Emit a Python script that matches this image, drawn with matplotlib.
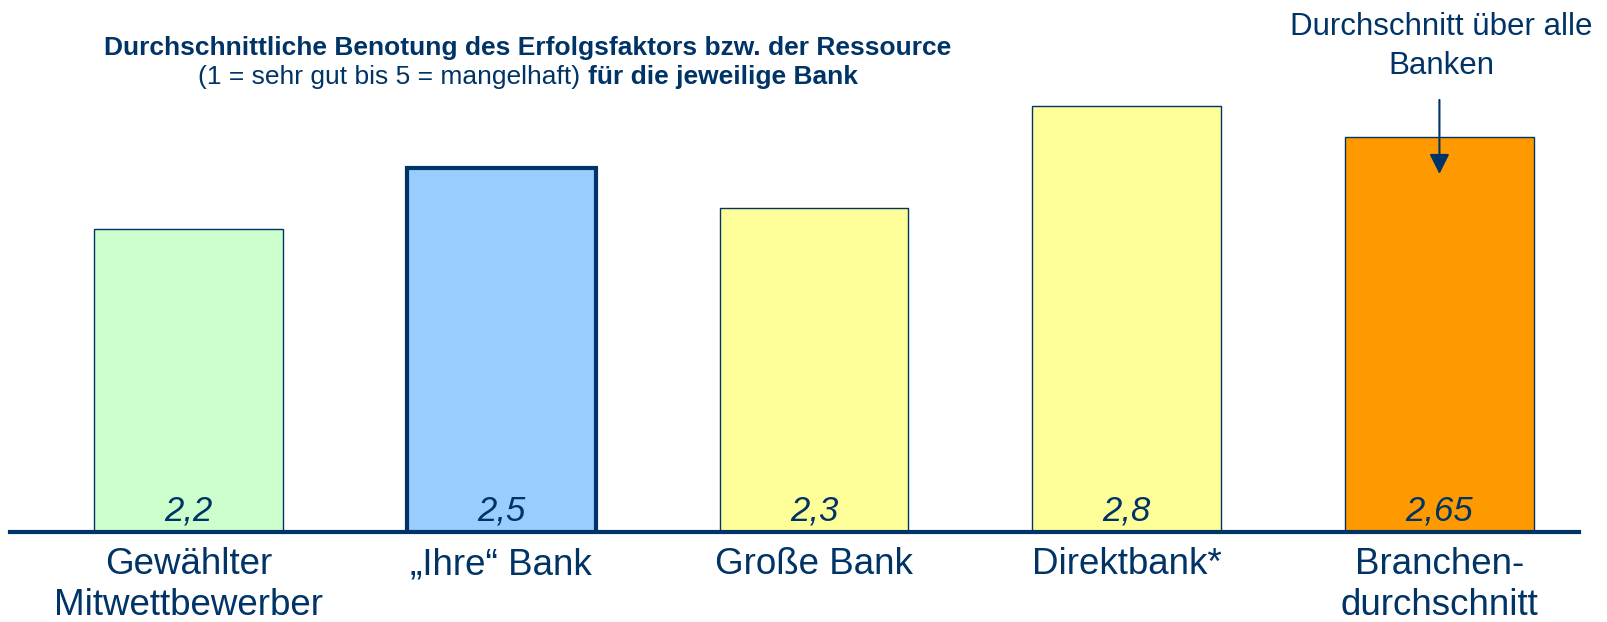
import matplotlib.pyplot as plt
from matplotlib import transforms

plt.rcParams['font.family'] = ['Liberation Sans', 'DejaVu Sans']

# data
categories = ["Gewählter\nMitwettbewerber", "„Ihre“ Bank", "Große Bank", "Direktbank*", "Branchen-\ndurchschnitt"]
values = [2.2, 2.5, 2.3, 2.8, 2.65]
value_labels = ["2,2", "2,5", "2,3", "2,8", "2,65"]
colors = ["#CCFFCC", "#99CCFF", "#FFFF99", "#FFFF99", "#FF9900"]
edge_widths = [1.0, 3.0, 1.0, 1.0, 1.0]

navy = "#003366"

fig = plt.figure(figsize=(16.08, 6.22), dpi=100)
ax = fig.add_axes([0.0062, 0.1447, 0.9757, 0.75])

x = list(range(len(values)))
ax.bar(x, values, width=0.604, color=colors, edgecolor=navy, linewidth=edge_widths, zorder=2)

ax.set_xlim(-0.571, 4.446)
ax.set_ylim(0.714, 3.0)

# values inside the bars, near the base line
trans = transforms.blended_transform_factory(ax.transData, ax.transAxes)
for xi, lab in zip(x, value_labels):
    ax.text(xi, 0.045, lab, transform=trans, ha='center', va='center',
            fontsize=25, style='italic', color=navy, zorder=3)

ax.set_xticks(x)
ax.set_xticklabels(categories, fontsize=26.5, color=navy, linespacing=1.2)
ax.tick_params(axis='x', length=0, pad=11)
ax.set_yticks([])
for s in ['top', 'left', 'right']:
    ax.spines[s].set_visible(False)
ax.spines['bottom'].set_color(navy)
ax.spines['bottom'].set_linewidth(3)
ax.spines['bottom'].set_zorder(4)
ax.patch.set_alpha(0)

# title
fig.text(0.328, 0.923, "Durchschnittliche Benotung des Erfolgsfaktors bzw. der Ressource",
         ha='center', va='center', fontsize=19, fontweight='bold', color=navy)
t1 = fig.text(198 / 1608, 0.876, "(1 = sehr gut bis 5 = mangelhaft) ",
              ha='left', va='center', fontsize=19, color=navy)
ax.annotate("für die jeweilige Bank", xy=(1, 0.5), xycoords=t1,
            ha='left', va='center', fontsize=19, fontweight='bold', color=navy)

# average note with arrow
fig.text(1441 / 1608, 0.925, "Durchschnitt über alle\nBanken", ha='center', va='center',
         fontsize=22.5, color=navy, linespacing=1.38)
ax.annotate("", xy=(4, 2.455), xytext=(4, 2.845),
            arrowprops=dict(arrowstyle='-|>', color=navy, lw=1.5, mutation_scale=30),
            zorder=5)

fig.savefig("out.png", dpi=100)
